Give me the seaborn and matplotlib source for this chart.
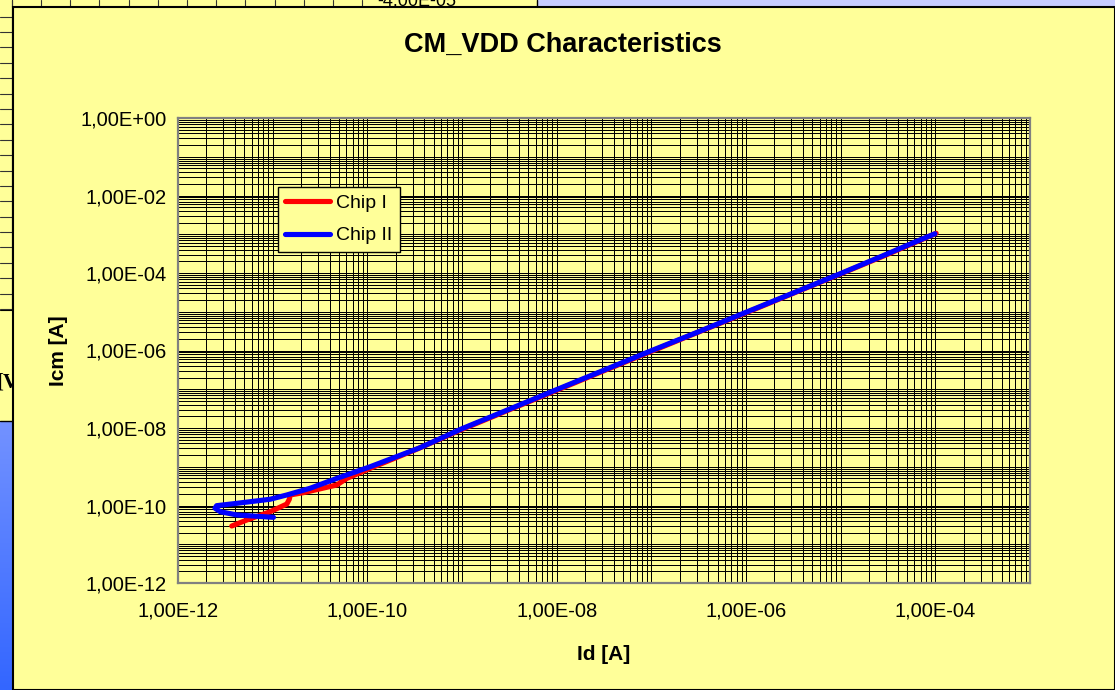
import numpy as np
import pandas as pd
import matplotlib
matplotlib.use("Agg")
import matplotlib.pyplot as plt
from matplotlib.ticker import FixedLocator, LogLocator, FuncFormatter, NullFormatter
from matplotlib.patches import Rectangle
from matplotlib.colors import LinearSegmentedColormap
import seaborn as sns

# ---- measured data: common-mode current vs. drain current -------------------
chip1_id = [3.7e-12, 5.3e-12, 9.4e-12, 1.41e-11, 1.50e-11, 1.53e-11, 2.11e-11,
            4.76e-11, 6.07e-11, 1.07e-10, 3.4e-10, 1.0e-9, 3.0e-9, 1.0e-8,
            3.0e-8, 1.0e-7, 3.0e-7, 1.0e-6, 3.0e-6, 1.0e-5, 3.0e-5, 6.0e-5,
            1.02e-4]
chip1_icm = [2.96e-11, 4.2e-11, 6.9e-11, 1.09e-10, 1.45e-10, 1.87e-10,
             2.14e-10, 3.38e-10, 5.0e-10, 9.1e-10, 2.9e-9, 9.2e-9, 2.8e-8,
             9.4e-8, 2.85e-7, 9.5e-7, 2.85e-6, 9.4e-6, 2.85e-5, 9.5e-5,
             2.9e-4, 6.0e-4, 1.06e-3]

chip2_id = [1.02e-11, 4.2e-12, 2.8e-12, 2.46e-12, 2.56e-12, 4.2e-12, 9.4e-12,
            1.41e-11, 2.48e-11, 4.76e-11, 1.07e-10, 3.6e-10, 1.0e-9, 3.0e-9,
            1.0e-8, 3.0e-8, 1.0e-7, 3.0e-7, 1.0e-6, 3.0e-6, 1.0e-5, 3.0e-5,
            6.0e-5, 9.9e-5]
chip2_icm = [4.95e-11, 5.7e-11, 6.9e-11, 8.5e-11, 9.9e-11, 1.14e-10, 1.45e-10,
             1.87e-10, 2.78e-10, 5.0e-10, 1.0e-9, 3.1e-9, 9.6e-9, 2.9e-8,
             9.8e-8, 2.95e-7, 9.9e-7, 2.9e-6, 9.7e-6, 2.9e-5, 9.7e-5, 3.0e-4,
             6.2e-4, 1.03e-3]

series_names = ["Chip I", "Chip II"]
series_colors = ["#FF0000", "#0000FF"]

x_ticks = [1e-12, 1e-10, 1e-8, 1e-6, 1e-4]
y_ticks = [1e-12, 1e-10, 1e-8, 1e-6, 1e-4, 1e-2, 1e0]
x_limits = (1e-12, 1e-3)
y_limits = (1e-12, 1e0)

df = pd.concat([
    pd.DataFrame({"Id": chip1_id, "Icm": chip1_icm, "Chip": series_names[0]}),
    pd.DataFrame({"Id": chip2_id, "Icm": chip2_icm, "Chip": series_names[1]}),
], ignore_index=True)

# ---- styling -----------------------------------------------------------------
sns.set_theme(style="white")
plt.rcParams["font.family"] = ["Liberation Sans", "DejaVu Sans"]
plt.rcParams["text.color"] = "black"
plt.rcParams["axes.labelcolor"] = "black"
plt.rcParams["xtick.color"] = "black"
plt.rcParams["ytick.color"] = "black"

YELLOW = "#FFFF99"
W, H = 1115, 690
fig = plt.figure(figsize=(W / 100, H / 100), dpi=100, facecolor=YELLOW)

# ---- surrounding worksheet frame (pixel coordinates) --------------------------
bg = fig.add_axes([0, 0, 1, 1], zorder=-5)
bg.axis("off")

# neighbouring sheet strip on the left
for yy in np.arange(16.5, 310, 15.4):
    bg.plot([0, 12], [yy, yy], color="#333333", lw=0.8)
bg.plot([11.5, 11.5], [0, 310], color="black", lw=0.8)
bg.plot([0, 12], [310, 310], color="black", lw=0.8)
bg.text(-3, 383, "[V", fontsize=15, fontweight="bold", family="Liberation Serif",
        va="center", ha="left")
grad = np.linspace(0, 1, 200).reshape(-1, 1)
bcmap = LinearSegmentedColormap.from_list("strip", ["#7392FF", "#3366FF"])
bg.imshow(grad, extent=[0, 13, 690, 421], aspect="auto", cmap=bcmap, zorder=1)
bg.plot([0, 13], [421, 421], color="black", lw=1.0, zorder=2)

# neighbouring sheet strip on top
for xx in np.arange(11.7, 365, 29.2):
    bg.plot([xx, xx], [0, 7], color="#333333", lw=0.8)
bg.text(377, 1, "-4.00E-05", fontsize=13, va="center", ha="left")
bg.add_patch(Rectangle((537, 0), W - 537, 7, facecolor="#C8CCFF",
                       edgecolor="none", zorder=1))
bg.plot([537, 537], [0, 7], color="black", lw=1.0, zorder=2)

# chart area
bg.add_patch(Rectangle((13, 7), W - 13, H - 7, facecolor=YELLOW,
                       edgecolor="black", lw=1.5, zorder=5))
bg.set_xlim(0, W)
bg.set_ylim(H, 0)

# ---- plot area ----------------------------------------------------------------
ax = fig.add_axes([178 / W, 1 - 583 / H, 852 / W, 465 / H])
ax.set_facecolor(YELLOW)
ax.set_xscale("log")
ax.set_yscale("log")

sns.lineplot(data=df, x="Id", y="Icm", hue="Chip", hue_order=series_names,
             palette=dict(zip(series_names, series_colors)), sort=False,
             estimator=None, lw=3.7, solid_capstyle="round", ax=ax)

ax.set_xlim(*x_limits)
ax.set_ylim(*y_limits)

fmt = FuncFormatter(lambda v, _: f"{v:.2E}".replace(".", ","))
for axis, ticks in ((ax.xaxis, x_ticks), (ax.yaxis, y_ticks)):
    axis.set_major_locator(FixedLocator(ticks))
    axis.set_major_formatter(fmt)
    axis.set_minor_locator(LogLocator(base=10, subs=np.arange(1, 10), numticks=200))
    axis.set_minor_formatter(NullFormatter())

ax.grid(True, which="both", color="black", lw=0.72)
ax.set_axisbelow(True)
ax.tick_params(which="major", direction="inout", length=8, width=1, color="#333333",
               labelsize=14.5, labelcolor="black")
ax.tick_params(axis="x", which="major", pad=9)
ax.tick_params(axis="y", which="major", pad=4)
ax.tick_params(which="minor", length=0)
for sp in ax.spines.values():
    sp.set_color("#808080")
    sp.set_linewidth(1.6)

ax.set_xlabel("Id [A]", fontsize=15, fontweight="bold", labelpad=18, color="black")
ax.set_ylabel("Icm [A]", fontsize=15, fontweight="bold", labelpad=9, color="black")
fig.text(563 / W, 1 - 45 / H, "CM_VDD Characteristics", fontsize=19.5,
         fontweight="bold", ha="center", va="center", color="black")

handles, labels = ax.get_legend_handles_labels()
leg = ax.legend(handles, labels, loc="upper left", bbox_to_anchor=(0.117, 0.852),
                frameon=True, fancybox=False, edgecolor="black", facecolor=YELLOW,
                framealpha=1, fontsize=14, handlelength=2.3, borderaxespad=0,
                borderpad=0.4, labelspacing=0.75, handletextpad=0.3)
leg.get_frame().set_linewidth(1.0)
for t in leg.get_texts():
    t.set_color("black")

fig.savefig("out.png", dpi=100, facecolor=YELLOW)
